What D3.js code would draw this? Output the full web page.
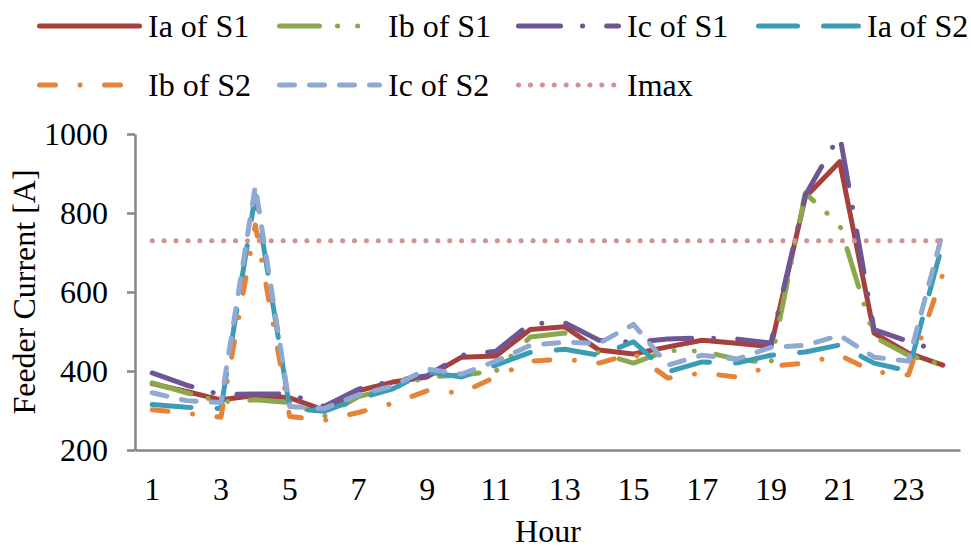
<!DOCTYPE html>
<html>
<head>
<meta charset="utf-8">
<script src="https://cdn.jsdelivr.net/npm/d3@7/dist/d3.min.js"></script>
<style>
  html, body { margin: 0; padding: 0; background: #ffffff; }
  svg { display: block; }
  text { font-family: "Liberation Serif", "Times New Roman", serif; fill: #000; }
</style>
</head>
<body>
<svg id="chart" width="971" height="548"></svg>
<script>
// Hourly feeder currents for two substations (S1, S2), phases a/b/c
const hours = d3.range(1, 25);
const xTickLabels = [1, 3, 5, 7, 9, 11, 13, 15, 17, 19, 21, 23];
const yTickLabels = [200, 400, 600, 800, 1000];

const iaS1 = [368, 348, 327, 338, 332, 301, 350, 372, 385, 435, 438, 505, 512, 453, 443, 461, 478, 470, 462, 840, 930, 496, 445, 415];
const ibS1 = [370, 345, 322, 327, 320, 285, 335, 357, 385, 390, 400, 486, 496, 445, 420, 452, 450, 430, 420, 850, 770, 486, 440, 415];
const icS1 = [395, 364, 340, 342, 342, 310, 354, 375, 388, 440, 450, 520, 522, 478, 473, 481, 484, 481, 471, 845, 998, 505, 475, 447];
const iaS2 = [315, 308, 305, 845, 305, 298, 330, 355, 398, 385, 415, 447, 455, 440, 474, 398, 423, 420, 440, 448, 466, 420, 400, 725];
const ibS2 = [302, 293, 283, 770, 285, 275, 295, 318, 350, 345, 385, 425, 430, 420, 445, 382, 395, 385, 412, 420, 440, 398, 390, 645];
const icS2 = [345, 325, 320, 868, 310, 305, 340, 362, 405, 392, 425, 465, 473, 470, 518, 415, 440, 430, 460, 465, 490, 435, 425, 752];
const imax = 730;

const seriesNames = ["Ia of S1", "Ib of S1", "Ic of S1", "Ia of S2", "Ib of S2", "Ic of S2", "Imax"];

// line styles per series (drawn in this order, later on top)
const styles = [
  { color: "#A6403C", dash: null },
  { color: "#8BA84C", dash: "40,18,0.1,20,0.1,22" },
  { color: "#6F5593", dash: "42,22,0.1,24" },
  { color: "#3D9CB5", dash: "39,26" },
  { color: "#E3843A", dash: "16,24.5,0.1,24.4" },
  { color: "#8FAAD2", dash: "15,15" },
  { color: "#D69090", dash: "0.1,11.8" }
];

const seriesValues = [iaS1, ibS1, icS1, iaS2, ibS2, icS2, hours.map(() => imax)];

const svg = d3.select("#chart");
const FONT = 32;

const x = d3.scaleBand().domain(hours).range([135, 960]).padding(0);
const xc = h => x(h) + x.bandwidth() / 2;
const y = d3.scaleLinear().domain([200, 1000]).range([450, 134]);

const axisColor = "#868686";

// y axis
const yAxis = svg.append("g")
  .attr("transform", "translate(135,0)")
  .call(d3.axisLeft(y).tickValues(yTickLabels).tickSize(8).tickSizeOuter(0).tickPadding(19).tickFormat(d3.format("d")));
yAxis.select(".domain").attr("stroke", axisColor).attr("stroke-width", 2.5);
yAxis.selectAll(".tick line").attr("stroke", axisColor).attr("stroke-width", 2.5);
yAxis.selectAll(".tick text").attr("font-size", FONT).attr("font-family", "Liberation Serif").attr("fill", "#000");

// x axis
const xAxis = svg.append("g")
  .attr("transform", "translate(0,450)")
  .call(d3.axisBottom(x).tickValues(xTickLabels).tickSize(0).tickSizeOuter(0).tickPadding(27));
xAxis.select(".domain").attr("stroke", axisColor).attr("stroke-width", 2.5);
xAxis.selectAll(".tick text").attr("font-size", FONT).attr("font-family", "Liberation Serif").attr("fill", "#000");

// axis titles
svg.append("text")
  .attr("x", 548).attr("y", 542)
  .attr("text-anchor", "middle")
  .attr("font-size", FONT)
  .text("Hour");
svg.append("text")
  .attr("transform", "translate(35,292) rotate(-90)")
  .attr("text-anchor", "middle")
  .attr("font-size", FONT)
  .text("Feeder Current [A]");

// series lines
const line = d3.line()
  .x((d, i) => xc(hours[i]))
  .y(d => y(d));

const plot = svg.append("g");
seriesValues.forEach((vals, i) => {
  plot.append("path")
    .datum(vals)
    .attr("d", line)
    .attr("fill", "none")
    .attr("stroke", styles[i].color)
    .attr("stroke-width", 5)
    .attr("stroke-linecap", "round")
    .attr("stroke-linejoin", "round")
    .attr("stroke-dasharray", styles[i].dash);
});

// legend: 4 columns, 2 rows
const legendCols = [37, 277, 516, 756];
const legendRows = [26, 85];
const legend = svg.append("g");
seriesNames.forEach((name, i) => {
  const col = legendCols[i % 4];
  const row = legendRows[Math.floor(i / 4)];
  legend.append("line")
    .attr("x1", col + 2.5).attr("x2", col + 102.5)
    .attr("y1", row).attr("y2", row)
    .attr("stroke", styles[i].color)
    .attr("stroke-width", 5)
    .attr("stroke-linecap", "round")
    .attr("stroke-dasharray", styles[i].dash);
  legend.append("text")
    .attr("x", col + 111)
    .attr("y", row + 11)
    .attr("font-size", FONT)
    .text(name);
});
</script>
</body>
</html>
